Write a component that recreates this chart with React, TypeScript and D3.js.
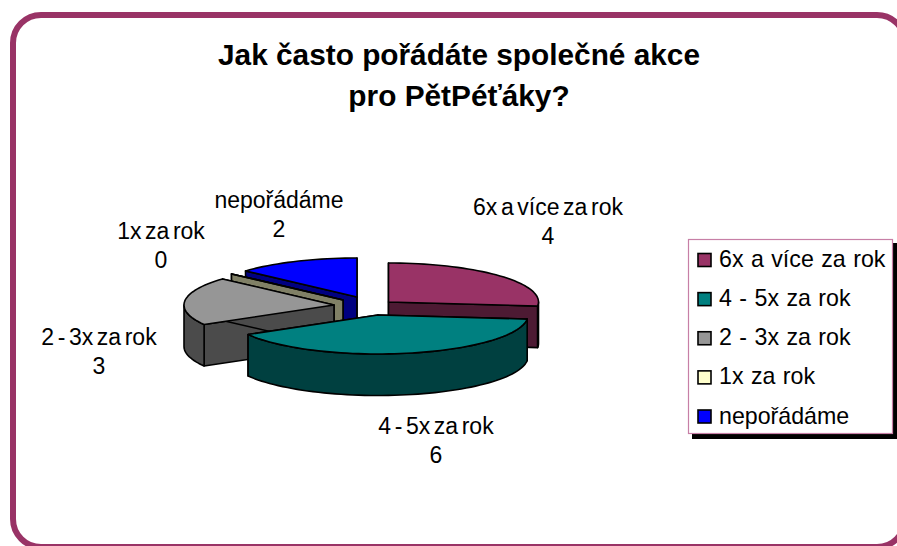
import React from "react";
import * as d3 from "d3";

const title = ["Jak často pořádáte společné akce", "pro PětPéťáky?"];
const categories = ["6x a více za rok", "4 - 5x za rok", "2 - 3x za rok", "1x za rok", "nepořádáme"];
const values = [4, 6, 3, 0, 2];
const topColors = ["#993366", "#008080", "#969696", "#FFFFCC", "#0000FF"];
const sideColors = ["#4D1A33", "#004040", "#4B4B4B", "#808066", "#000080"];
// layout
const apexes: [number, number][] = [[388.5, 302], [378, 315], [334, 305], [343, 300], [357, 297]];
const labelPos: [number, number][] = [[548, 215], [436, 434], [99, 345], [161, 239], [279, 208]];
const drawOrder = [4, 3, 2, 0, 1];
const RX = 150, RY = 39, DEPTH = 41.5;

const W = 897, H = 546;
const pieGen = d3.pie<number>().sort(null).startAngle(0).endAngle(2 * Math.PI);
const arcs = pieGen(values);
const legendY = d3.scalePoint<number>().domain(d3.range(categories.length)).range([260, 416.5]);

function pt(i: number, a: number, drop = 0): [number, number] {
  const [x, y] = apexes[i];
  return [x + RX * Math.sin(a), y - RY * Math.cos(a) + drop];
}
function rim(i: number, a0: number, a1: number, drop = 0): [number, number][] {
  const n = Math.max(1, Math.ceil(Math.abs(a1 - a0) / 0.04));
  return d3.range(n + 1).map((k) => pt(i, a0 + ((a1 - a0) * k) / n, drop));
}
const path = (p: [number, number][]) => d3.line()(p)! + "Z";

function Slice({ i }: { i: number }) {
  const { startAngle: s, endAngle: e } = arcs[i];
  const apex = apexes[i];
  const apexD: [number, number] = [apex[0], apex[1] + DEPTH];
  const parts: string[] = [];
  parts.push(path([apex, pt(i, s), pt(i, s, DEPTH), apexD]));
  parts.push(path([apex, pt(i, e), pt(i, e, DEPTH), apexD]));
  const lo = Math.max(s, Math.PI / 2), hi = Math.min(e, (3 * Math.PI) / 2);
  if (hi > lo) parts.push(path([...rim(i, lo, hi), ...rim(i, hi, lo, DEPTH)]));
  return (
    <g stroke="#000" strokeWidth={1.6} strokeLinejoin="round">
      {parts.map((d, k) => <path key={k} d={d} fill={sideColors[i]} />)}
      <path d={path([apex, ...rim(i, s, e)])} fill={topColors[i]} />
    </g>
  );
}

export default function App() {
  return (
    <svg width={W} height={H} viewBox={`0 0 ${W} ${H}`} style={{ position: "fixed", left: 0, top: 0, background: "#fff" }}
      fontFamily="'Liberation Sans', Arial, sans-serif">
      <rect x={13} y={15} width={892} height={532} rx={28} fill="#fff" stroke="#993366" strokeWidth={6} />
      <text textAnchor="middle" fontWeight="bold" fontSize={29.8} fill="#000">
        <tspan x={459} y={65}>{title[0]}</tspan>
        <tspan x={459} y={106}>{title[1]}</tspan>
      </text>
      {drawOrder.map((i) => <Slice key={i} i={i} />)}
      {categories.map((c, i) => (
        <text key={c} textAnchor="middle" fontSize={23} wordSpacing={-2.8} fill="#000">
          <tspan x={labelPos[i][0]} y={labelPos[i][1]}>{c}</tspan>
          <tspan x={labelPos[i][0]} y={labelPos[i][1] + 29}>{values[i]}</tspan>
        </text>
      ))}
      <rect x={692} y={243} width={205} height={196} fill="#000" />
      <rect x={688.5} y={239.5} width={204} height={194} fill="#fff" stroke="#C77FA6" strokeWidth={1.2} />
      {categories.map((c, i) => (
        <g key={c}>
          <rect x={698} y={legendY(i)! - 6.5} width={13} height={13} fill={topColors[i]} stroke="#000" strokeWidth={1.6} />
          <text x={719} y={legendY(i)! + 7} fontSize={23.2} wordSpacing={1} fill="#000">{c}</text>
        </g>
      ))}
    </svg>
  );
}
